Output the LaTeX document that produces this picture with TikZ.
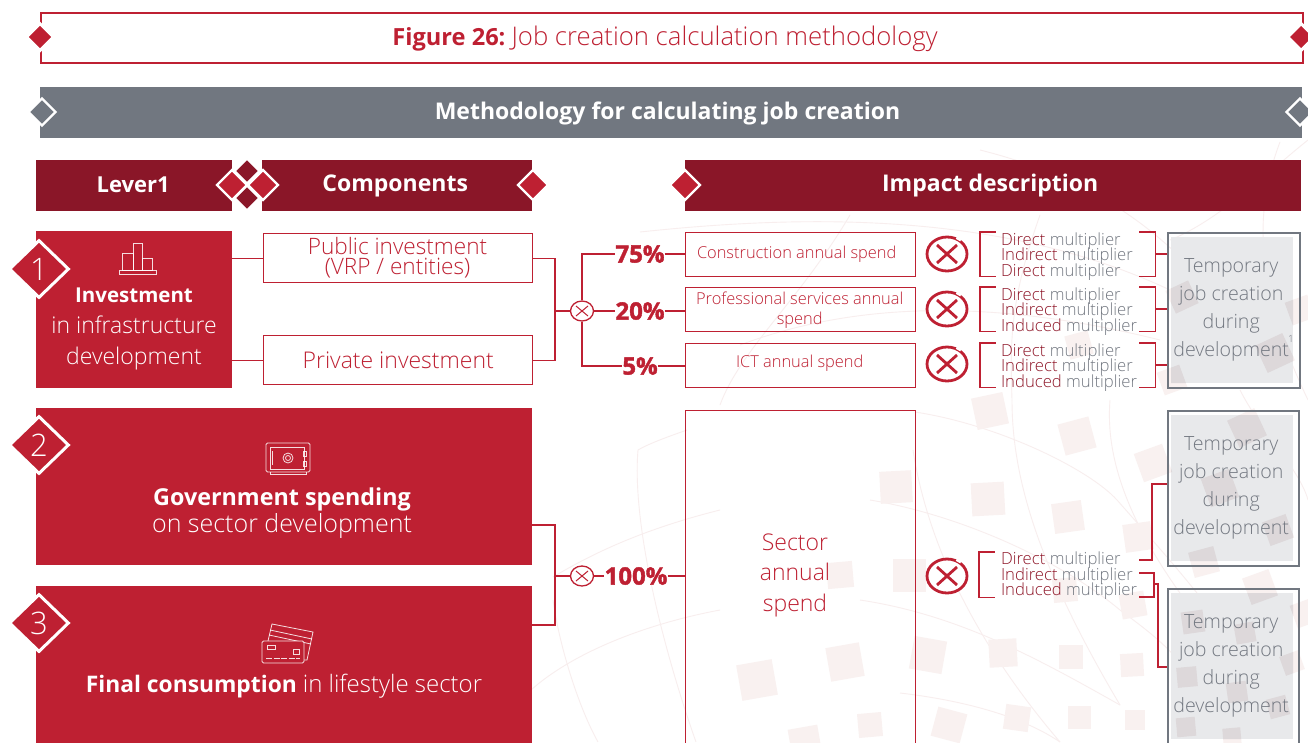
\documentclass[tikz,border=0pt]{standalone}
\usepackage{fontspec}
\setmainfont{Open Sans Light}[BoldFont=Open Sans Bold]
\newfontfamily\heavyfont{Open Sans Bold}[FakeBold=1.6]
\usetikzlibrary{shapes.geometric,calc}
\definecolor{crim}{HTML}{BE2032}
\definecolor{wine}{HTML}{8A1628}
\definecolor{slate}{HTML}{717780}
\definecolor{greytxt}{HTML}{737881}
\definecolor{greyfill}{HTML}{E8E9EB}
\definecolor{bgsq}{HTML}{F9F1F0}
\definecolor{bgsqd}{HTML}{DDD8DA}
\definecolor{bgln}{HTML}{F8EEEE}
\lineskiplimit=-20pt
\newcommand{\fsz}[2]{\fontsize{#1}{#2}\selectfont\lineskiplimit=-20pt }
\tikzset{
  x=1pt,y=-1pt,
  band/.style={rectangle,inner sep=0,anchor=north west,text=white,font=\fsz{23}{26}\bfseries},
  redpanel/.style={rectangle,fill=crim,inner sep=0,anchor=north west,text=white,align=center},
  compbox/.style={rectangle,draw=crim,line width=1.4pt,fill=white,inner sep=0,anchor=north west,text=crim,align=center},
  spendbox/.style={rectangle,draw=crim,line width=1.4pt,inner sep=0,anchor=north west,text=crim,align=center,font=\fsz{16.4}{20}},
  outerbox/.style={rectangle,draw=slate,line width=1.5pt,inner sep=0,anchor=north west},
  innerbox/.style={rectangle,inner sep=0,anchor=north west,text=greytxt,align=center,font=\fsz{19.6}{28}},
  gem/.style={diamond,inner sep=0,aspect=1,draw=white,line width=2.4pt},
  conn/.style={draw=crim,line width=1.4pt},
  brk/.style={draw=crim,line width=1.4pt},
  pct/.style={text=crim,font=\fsz{24}{24}\heavyfont,inner sep=0},
  xbig/.style={ellipse,draw=crim,line width=2.8pt,fill=white,minimum width=40pt,minimum height=34pt,inner sep=0},
  xsmall/.style={ellipse,draw=crim,line width=1.3pt,fill=white,minimum width=23pt,minimum height=20pt,inner sep=0},
  multbr/.style={rectangle,inner sep=0,minimum width=175pt,minimum height=44pt},
  multtxt/.style={anchor=west,inner sep=0,align=left,font=\fsz{16.7}{15.5},text=greytxt},
  icon/.style={draw=white,line width=.8pt,opacity=.85},
}
\newcommand{\mline}[1]{\textcolor{wine!90!crim}{#1} multiplier}
\newcommand{\sqlist}[1]{%
\foreach \cx/\cy/\cs/\cr in {990/411/32/12,1077/436/32/15,1153/463/30/20,988/499/33/3,1068/517/30/8,1138/537/28/8,896/487/32/3,909/575/33/0,1065/590/24/5,1133/605/25/10,928/655/33/-10,1003/653/28/3,1071/657/24/0,1132/665/23/3,949/725/30/-15,1017/718/25/-8,1079/717/23/0,1135/720/20/0,1247/428/30/25,1220/488/30/20,1278/530/25/20,1204/562/26/15,1193/622/22/8,1245/633/20/10,1187/677/20/5,1237/692/20/8,1292/663/20/20,1278/707/20/15,1186/727/19/5,1232/737/18/5,1260/587/28/20,1305/613/24/20,1182/297/25/25,1275/353/30/25,1172/380/24/20,1079/345/24/15,845/662/34/10,757/680/36/10,840/575/26/5,805/742/30/10,1300/310/24/20,870/725/24/5}
{\fill[#1,rotate around={\cr:(\cx,\cy)}] (\cx-\cs/2,\cy-\cs/2) rectangle (\cx+\cs/2,\cy+\cs/2);}}
\newcommand{\arclist}[1]{%
\begin{scope}[draw=#1,line width=.9pt]
\draw (915,412) .. controls (1000,425) and (1090,470) .. (1117,500) .. controls (1170,560) and (1215,610) .. (1260,680);
\draw (870,500) .. controls (960,515) and (1060,560) .. (1120,610) .. controls (1160,640) and (1190,660) .. (1230,742);
\draw (860,600) .. controls (960,615) and (1040,660) .. (1120,705);
\draw (1012,400) .. controls (1012,480) and (1040,570) .. (1120,705);
\draw (1110,400) .. controls (1105,460) and (1130,530) .. (1200,620);
\draw (913,450) .. controls (930,560) and (990,660) .. (1060,742);
\draw (900,693) .. controls (960,700) and (1020,715) .. (1060,742);
\draw (687,430) .. controls (670,436) and (650,443) .. (638,450) .. controls (632,520) and (660,640) .. (696,742);
\draw (553,600) .. controls (560,650) and (580,710) .. (598,742);
\draw (531,690) .. controls (570,655) and (640,625) .. (720,610);
\draw (553,577) .. controls (590,555) and (640,530) .. (720,510);
\draw (640,232) .. controls (800,215) and (1000,210) .. (1170,290);
\draw (740,345) .. controls (860,300) and (1000,300) .. (1160,340);
\draw (980,150) .. controls (1100,180) and (1180,240) .. (1240,330);
\draw (1280,142) .. controls (1250,220) and (1260,300) .. (1308,400);
\draw (1308,140) .. controls (1270,170) and (1220,220) .. (1170,240);
\draw (1040,215) .. controls (1010,300) and (1010,340) .. (1012,400);
\draw (850,215) .. controls (800,300) and (740,350) .. (720,405);
\draw (1240,390) .. controls (1260,430) and (1300,470) .. (1308,500);
\end{scope}}
\begin{document}
\begin{tikzpicture}
\useasboundingbox (0,0) rectangle (1308,742);
\clip (0,0) rectangle (1308,742);
\fill[white] (0,0) rectangle (1308,742);
\arclist{bgln}
\sqlist{bgsq}

% title
\node[rectangle,draw=crim,line width=2pt,anchor=north west,inner sep=0,minimum width=1262pt,minimum height=49.5pt] (title) at (40,12) {};
\node[text=crim,inner sep=0] (titletext) at (665,38.5) {\fsz{23.6}{28}\textbf{Figure 26:}\ \fsz{25.7}{28}Job creation calculation methodology};
\node[diamond,fill=crim,draw=white,line width=3pt,inner sep=0,minimum width=28pt,minimum height=28pt] (titleL) at (40,37) {};
\node[diamond,fill=crim,draw=white,line width=3pt,inner sep=0,minimum width=28pt,minimum height=28pt] (titleR) at (1301,37) {};

% grey bar
\node[band,fill=slate,minimum width=1262pt,minimum height=51pt] (method) at (40,87) {};
\node[text=white,inner sep=0,font=\fsz{23}{26}\bfseries] (methodtext) at (667.5,113.5) {Methodology for calculating job creation};
\node[gem,fill=slate,minimum width=28pt,minimum height=28pt] (methodL) at (42,112) {};
\node[gem,fill=slate,minimum width=28pt,minimum height=28pt] (methodR) at (1300,112) {};

% headers
\node[band,fill=wine,minimum width=196pt,minimum height=51pt] (hlever) at (36,160) {\raisebox{1.5pt}{\hspace*{-2pt}\fsz{22}{26}Lever1}};
\node[band,fill=wine,minimum width=270pt,minimum height=51pt] (hcomp) at (262,160) {\hspace*{-4pt}Components};
\node[band,fill=wine,minimum width=616pt,minimum height=51pt] (himpact) at (685,160) {\hspace*{-6pt}Impact description};
\node[gem,fill=wine,minimum width=26pt,minimum height=26pt] (dTop) at (247,171) {};
\node[gem,fill=wine,minimum width=26pt,minimum height=26pt] (dBot) at (247,198) {};
\node[gem,fill=crim,minimum width=31pt,minimum height=31pt] (dL) at (232,185) {};
\node[gem,fill=crim,minimum width=31pt,minimum height=31pt] (dR) at (263,185) {};
\node[gem,fill=crim,minimum width=31pt,minimum height=31pt] (dComp) at (533,185) {};
\node[gem,fill=crim,minimum width=31pt,minimum height=31pt] (dImp) at (685,185) {};

% lever panels
\node[redpanel,minimum width=196pt,minimum height=157pt] (inv) at (36,231) {};
\node[text=white,inner sep=0,align=center,font=\fsz{23}{31}] (invtext) at (134,328.5) {\fsz{20.5}{31}\textbf{Investment}\\\fsz{23}{31}in infrastructure\\development};
\node[redpanel,minimum width=496pt,minimum height=157pt] (gov) at (36,408) {};
\node[text=white,inner sep=0,align=center,font=\fsz{25}{26.5}] (govtext) at (282,513) {\fsz{23.3}{26.5}\textbf{Government spending}\\\fsz{25}{26.5}on sector development};
\node[redpanel,minimum width=496pt,minimum height=170pt] (fin) at (36,586) {};
\node[text=white,inner sep=0] (fintext) at (284,686) {\fsz{22.8}{26}\textbf{Final consumption}\ \fsz{24}{26}in lifestyle sector};

% number diamonds
\foreach \nm/\yy/\tt in {g1/269/1,g2/445/2,g3/623/3}{
  \node[diamond,fill=crim,draw=white,line width=3pt,inner sep=0,minimum width=60pt,minimum height=58pt,text=white] (\nm) at (39,\yy) {\fsz{31}{32}\tt};
}

% icons
\draw[icon] (119,270) rectangle (156,274);
\draw[icon] (122,253) rectangle (133,270);
\draw[icon] (133,243) rectangle (142,270);
\draw[icon] (142,258) rectangle (152,270);
\draw[icon,rounded corners=1.5pt] (266,443) rectangle (310,472);
\draw[icon] (270,447) rectangle (304,469);
\draw[icon] (272,451) -- (272,465);
\draw[icon] (288,458) circle (5);
\draw[icon] (288,458) circle (2.5);
\draw[icon] (303,451) rectangle (306,456);
\draw[icon] (303,461) rectangle (306,466);
\draw[icon] (270,472) -- (270,474) -- (306,474) -- (306,472);
\draw[icon] (268,641) -- (272,624) -- (313,632) -- (307,660) -- (304,660);
\draw[icon] (270,630) -- (312,639);
\draw[icon] (269,635) -- (311,644);
\draw[icon,rounded corners=1.5pt,fill=crim] (262,641) rectangle (304,663);
\draw[icon] (267,645) rectangle (275,649);
\draw[icon] (293,649) rectangle (299,654);
\draw[icon,dash pattern=on 6pt off 1.5pt] (266,658) -- (300,658);

% component boxes
\node[compbox,minimum width=269pt,minimum height=49pt] (pub) at (263,233) {};
\node[text=crim,inner sep=0,align=center,font=\fsz{22.6}{20}] (pubtext) at (397.5,258) {Public investment\\(VRP / entities)};
\node[compbox,minimum width=269pt,minimum height=49pt,font=\fsz{23}{20}] (priv) at (263,335) {\raisebox{-3pt}{Private investment}};
\draw[conn] (inv.east |- pub.west) -- (pub.west);
\draw[conn] (inv.east |- priv.west) -- (priv.west);

% spend boxes
\node[spendbox,minimum width=230pt,minimum height=44pt] (sC) at (685,232) {\raisebox{-4pt}{\hspace*{-8pt}Construction annual spend}};
\node[spendbox,minimum width=230pt,minimum height=44pt] (sP) at (685,287) {\hspace*{-2pt}Professional services annual\\\hspace*{-2pt}spend};
\node[spendbox,minimum width=230pt,minimum height=44pt] (sI) at (685,343) {\raisebox{8pt}{\hspace*{-2pt}ICT annual spend}};
\node[spendbox,minimum width=230pt,minimum height=350pt] (sS) at (685,410) {};
\node[text=crim,inner sep=0,align=center,font=\fsz{23}{30.5}] (sStext) at (795,575) {Sector\\annual\\spend};

% top junction
\node[xsmall] (j1) at (582,311) {};
\draw[crim,line width=1pt] ($(j1.center)+(-6,-5)$) -- ($(j1.center)+(6,5)$) ($(j1.center)+(-6,5)$) -- ($(j1.center)+(6,-5)$);
\coordinate (bus1) at (555,311);
\draw[conn] (pub.east) -| (bus1) |- (priv.east);
\draw[conn] (bus1) -- (j1.west);
\node[pct] (p75) at (640,254) {75\%};
\node[pct] (p20) at (640,311) {20\%};
\node[pct] (p5) at (640,366) {5\%};
\draw[conn] (j1.north) |- (p75.west);
\draw[conn] (p75.east) -- (sC.west |- p75.east);
\draw[conn] (j1.east) -- (p20.west);
\draw[conn] (p20.east) -- (sP.west |- p20.east);
\draw[conn] (j1.south) |- (p5.west);
\draw[conn] (p5.east) -- (sI.west |- p5.east);

% bottom junction
\node[xsmall] (j2) at (582,576) {};
\draw[crim,line width=1pt] ($(j2.center)+(-6,-5)$) -- ($(j2.center)+(6,5)$) ($(j2.center)+(-6,5)$) -- ($(j2.center)+(6,-5)$);
\coordinate (gA) at (532,525);
\coordinate (fA) at (532,625);
\coordinate (bus2) at (555,576);
\draw[conn] (gA) -| (bus2) |- (fA);
\draw[conn] (bus2) -- (j2.west);
\node[pct] (p100) at (636,576) {100\%};
\draw[conn] (j2.east) -- (p100.west);
\draw[conn] (p100.east) -- (sS.west |- p100.east);

% big X marks
\foreach \nm/\yy in {x1/254,x2/309,x3/364,x4/576}{
  \node[xbig] (\nm) at (947,\yy) {};
  \draw[crim,line width=2.8pt] ($(\nm.center)+(-10,-9)$) -- ($(\nm.center)+(10,9)$) ($(\nm.center)+(-10,9)$) -- ($(\nm.center)+(10,-9)$);
  \draw[white,line width=3pt] (\nm.60) -- (\nm.45);
}

% multiplier brackets
\foreach \nm/\yy/\a/\b/\c in {m1/254/Direct/Indirect/Direct,m2/309/Direct/Indirect/Induced,m3/365/Direct/Indirect/Induced}{
  \node[multbr] (\nm) at (1067.5,\yy) {};
  \draw[brk] ($(\nm.north west)+(16,0)$) -- (\nm.north west) -- (\nm.south west) -- ($(\nm.south west)+(16,0)$);
  \draw[brk] ($(\nm.north east)+(-16,0)$) -- (\nm.north east) -- (\nm.south east) -- ($(\nm.south east)+(-16,0)$);
  \node[multtxt] (\nm t) at ($(\nm.west)+(21,2.2)$) {\mline{\a}\\\mline{\b}\\\mline{\c}};
}
\node[multbr,minimum width=160pt,minimum height=45pt] (m4) at (1059,574.5) {};
\draw[brk] ($(m4.north west)+(16,0)$) -- (m4.north west) -- (m4.south west) -- ($(m4.south west)+(16,0)$);
\node[multtxt] (m4t) at ($(m4.west)+(22,1.5)$) {\mline{Direct}\\\mline{Indirect}\\\mline{Induced}};

% grey result boxes
\node[outerbox,minimum width=132pt,minimum height=155pt] (oA) at (1167,232) {};
\node[outerbox,minimum width=131pt,minimum height=155pt] (oB) at (1167,410) {};
\node[outerbox,minimum width=131pt,minimum height=170pt] (oC) at (1167,588) {};
\fill[greyfill] (1171,237) rectangle (1293,383);
\fill[greyfill] (1171,415) rectangle (1293,561);
\fill[greyfill] (1171,593) rectangle (1293,739);
\begin{scope}
\clip (1171,237) rectangle (1293,383) (1171,415) rectangle (1293,561) (1171,593) rectangle (1293,739);
\sqlist{bgsqd}
\end{scope}
\node[innerbox,minimum width=122pt,minimum height=146pt] (iA) at (1170,237) {Temporary\\job creation\\during\\development};
\node[text=greytxt,inner sep=0,font=\fsz{10}{10}] (supA) at (1291,339) {1};
\node[innerbox,minimum width=122pt,minimum height=146pt] (iB) at (1170,415) {Temporary\\job creation\\during\\development};
\node[innerbox,minimum width=122pt,minimum height=146pt] (iC) at (1170,593) {Temporary\\job creation\\during\\development};

\draw[conn] (m1.east) -- (oA.west |- m1.east);
\draw[conn] (m2.east) -- (oA.west |- m2.east);
\draw[conn] (m3.east) -- (oA.west |- m3.east);

% lower multiplier connectors
\coordinate (r1) at (1139,560);
\coordinate (r2) at (1139,573);
\coordinate (r3) at (1139,597);
\coordinate (t1) at (1167,484);
\coordinate (t2) at (1167,667);
\coordinate (k1) at (1154,584);
\draw[conn] (r1) -- (1152,560) -- (1152,484) -- (t1);
\draw[conn] (r2) -- (1154,573) -- (1154,597) -- (r3);
\draw[conn] (k1) -- (1158,584) -- (1158,667) -- (t2);
\end{tikzpicture}
\end{document}
